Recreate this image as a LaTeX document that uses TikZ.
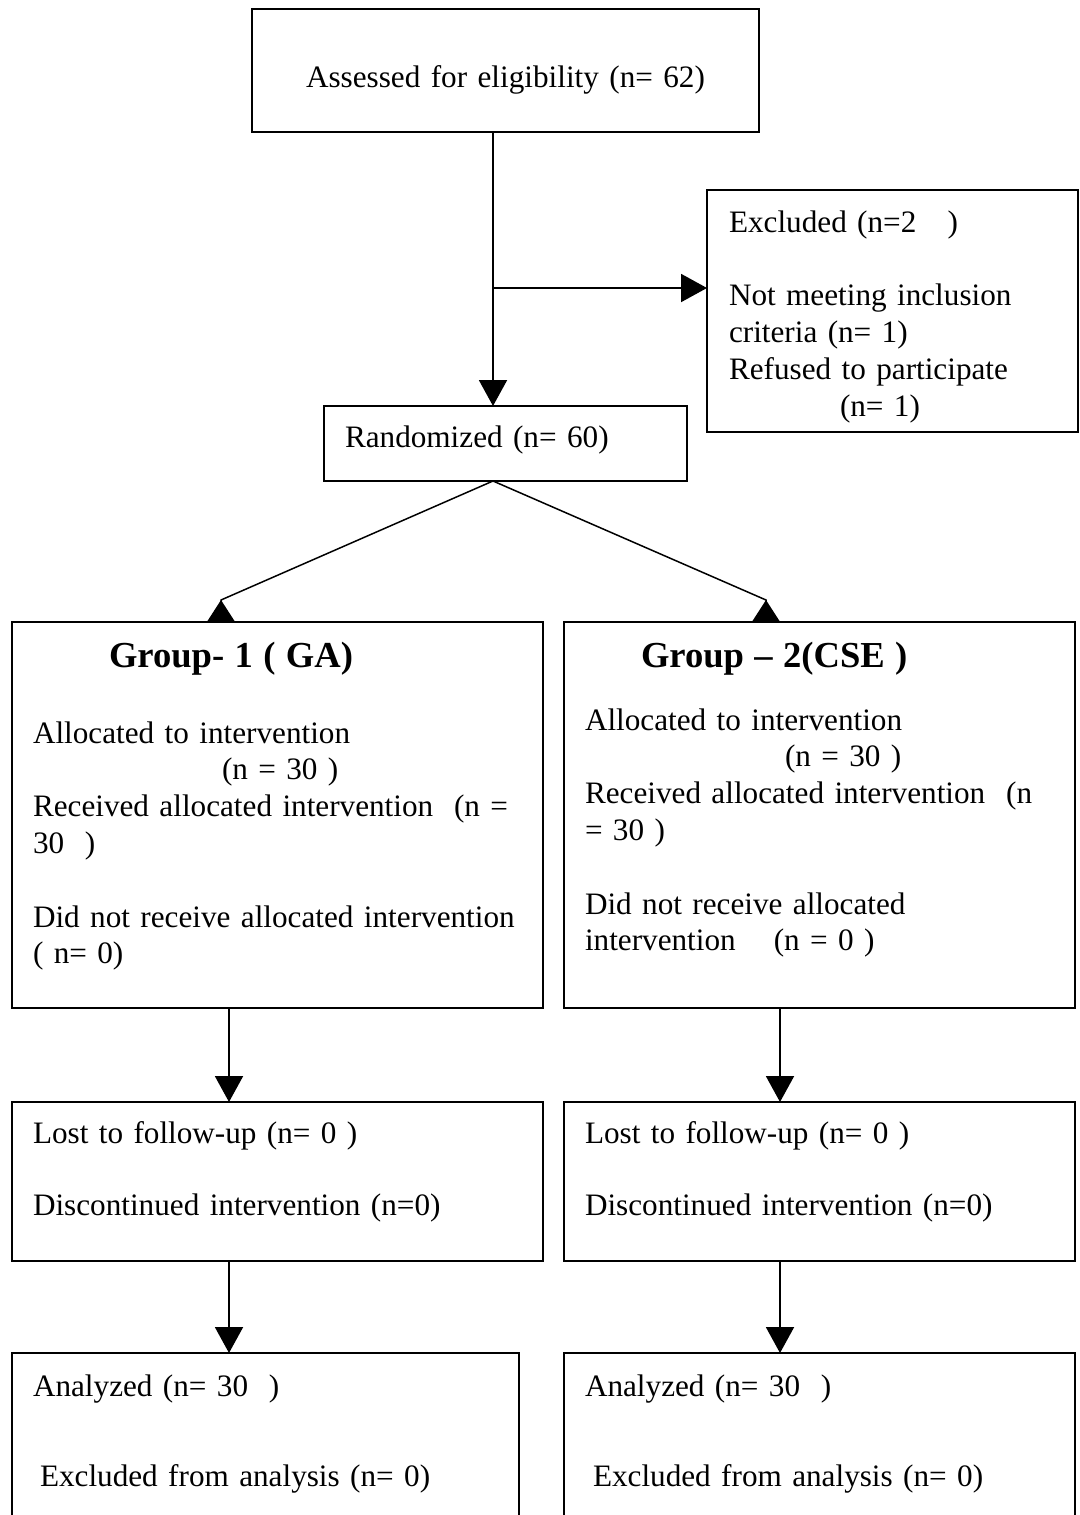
\documentclass[tikz,border=0pt]{standalone}
\usepackage{fontspec}
\setmainfont{Liberation Serif}
\usetikzlibrary{arrows.meta}
\newcommand{\grouptitle}[1]{{\fontsize{36.6}{36.8}\selectfont\bfseries #1}}

\begin{document}
\begin{tikzpicture}[x=1pt, y=-1pt]
\tikzstyle{box}=[rectangle, draw=black, line width=2pt, anchor=north west, outer sep=0pt,
        inner ysep=0pt, inner xsep=21pt, align=left, text=black, font=\fontsize{31.2}{36.8}\selectfont]
\tikzstyle{flow}=[-{Triangle[length=26pt, width=28pt]}, line width=2pt]
\tikzstyle{fork}=[-{Triangle[reversed, length=22pt, width=28pt]}, line width=1.5pt]

\useasboundingbox (0,0) rectangle (1079,1515);
\clip (0,0) rectangle (1079,1515);

    \node (assess) [box, align=center, inner xsep=10pt, text width=487pt,
        text height=78pt, text depth=45pt] at (252,9){
            Assessed for eligibility (n= 62)
    };

    \node (excl) [box, inner xsep=22pt, text width=327pt,
        text height=42pt, text depth=200pt] at (707,190){
            Excluded (n=2\ \ \ )\\[36.8pt]
            Not meeting inclusion\\
            criteria (n= 1)\\
            Refused to participate\\
            \hspace*{111pt}(n= 1)
    };

    \node (rand) [box, text width=321pt, text height=41pt, text depth=34pt] at (324,406){
            Randomized (n= 60)
    };

    \node (ga) [box, text width=489pt, text height=45pt, text depth=341pt] at (12,622){
            \hspace*{76pt}\grouptitle{Group- 1 ( GA)}\\[39.2pt]
            Allocated to intervention\\
            \hspace*{189pt}(n = 30 )\\
            Received allocated intervention\ \ (n =\\
            30\ \ )\\[36.8pt]
            Did not receive allocated intervention\\
            ( n= 0)
    };

    \node (cse) [box, text width=469pt, text height=45pt, text depth=341pt] at (564,622){
            \hspace*{56pt}\grouptitle{Group – 2(CSE )}\\[26.2pt]
            Allocated to intervention\\
            \hspace*{200pt}(n = 30 )\\
            Received allocated intervention\ \ (n\\
            = 30 )\\[36.8pt]
            Did not receive allocated\\
            intervention\hspace{38pt}(n = 0 )
    };

    \node (lostga) [box, text width=489pt, text height=41pt, text depth=118pt] at (12,1102){
            Lost to follow-up (n= 0 )\\[35.2pt]
            Discontinued intervention (n=0)
    };

    \node (lostcse) [box, text width=469pt, text height=41pt, text depth=118pt] at (564,1102){
            Lost to follow-up (n= 0 )\\[35.2pt]
            Discontinued intervention (n=0)
    };

    \node (anaga) [box, text width=465pt, text height=43pt, text depth=200pt] at (12,1353){
            Analyzed (n= 30\ \ )\\[53.2pt]
            \hspace*{7pt}Excluded from analysis (n= 0)
    };

    \node (anacse) [box, text width=469pt, text height=43pt, text depth=200pt] at (564,1353){
            Analyzed (n= 30\ \ )\\[53.2pt]
            \hspace*{8pt}Excluded from analysis (n= 0)
    };

\coordinate (branch) at (493,288);
\coordinate (tipga) at (221,600);
\coordinate (tipcse) at (766,600);
\coordinate (colga) at (229,0);
\coordinate (colcse) at (780,0);

\draw[flow] (assess.south -| branch) -- (rand.north -| branch);
\draw[flow] (branch) -- (excl.west |- branch);

\draw[fork] (rand.south -| branch) -- (tipga) -- (ga.north -| tipga);
\draw[fork] (rand.south -| branch) -- (tipcse) -- (cse.north -| tipcse);

\draw[flow] (ga.south -| colga) -- (lostga.north -| colga);
\draw[flow] (cse.south -| colcse) -- (lostcse.north -| colcse);
\draw[flow] (lostga.south -| colga) -- (anaga.north -| colga);
\draw[flow] (lostcse.south -| colcse) -- (anacse.north -| colcse);

\end{tikzpicture}
\end{document}
